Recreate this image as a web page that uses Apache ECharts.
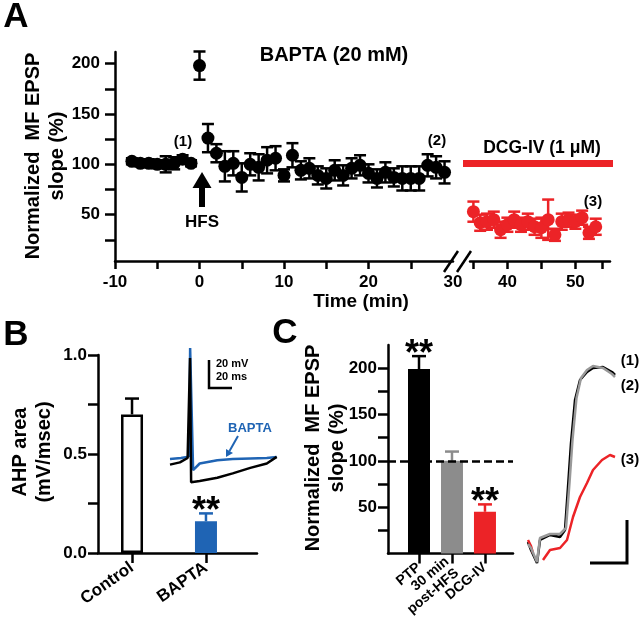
<!DOCTYPE html>
<html><head><meta charset="utf-8">
<script src="https://cdn.jsdelivr.net/npm/echarts/dist/echarts.min.js"></script>
<style>html,body{margin:0;padding:0;background:#fff}#c{width:640px;height:623px}</style>
</head><body><div id="c"></div>
<script>
// ---------- Panel A data ----------
const blackTime = [-8,-7,-6,-5,-4,-3,-2,-1,0,1,2,3,4,5,6,7,8,9,10,11,12,13,14,15,16,17,18,19,20,21,22,23,24,25,26,27,28,29];
const blackMean = [103,101,101,100,100,101,105,101,198,126,111,98,101,87,100,97,104,106,89,109,94,96,89,86,94,89,96,99,91,86,92,87,86,86,86,99,97,92];
const blackSem  = [3,3,4,4,8,6,4,3,14,14,9,15,12,14,11,13,13,12,6,12,9,10,9,10,10,10,10,10,9,9,10,9,12,12,12,11,11,11];
const redTime = [35,36,37,38,39,40,41,42,43,44,45,46,47,48,49,50,51,52,53];
const redMean = [53,42,43,45,35,40,45,40,43,38,37,45,30,43,45,43,47,32,38];
const redSem  = [10,8,8,8,8,7,8,7,8,8,10,20,6,8,7,7,7,6,8];
const aYTickVals = [25,50,75,100,125,150,175,200];
const aYLabels = [50,100,150,200];
const aXTicksLeft = [-10,-5,0,5,10,15,20,25];
const aXLabelsLeft = [-10,0,10,20,30];
const aXTicksRight = [35,40,45,50,54];
const aXLabelsRight = [40,50];
const aYTitle = 'Normalized  MF EPSP\nslope (%)';
const aXTitle = 'Time (min)';

// ---------- Panel B data ----------
const bCategories = ['Control','BAPTA'];
const bMean = [0.70,0.16];
const bSem = [0.08,0.04];
const bSig = ['','**'];
const bYTickVals = [0,0.25,0.5,0.75,1];
const bYLabels = [0,0.5,1];
const bYTitle = 'AHP area\n(mV/msec)';
// inset traces (time ms, voltage mV relative to baseline)
const bBlackT = [0,9,16,17.5,18.2,19.2,27,43,57,73,88,97];
const bBlackV = [-6,-4,0,1,91,-22,-21,-18,-14,-9,-5,1];
const bBlueT  = [0,10,15.5,17.5,18.3,21,27,43,57,73,88,97];
const bBlueV  = [-1,0,1,2,100,-11,-5,-2,-1,-0.5,0,1];

// ---------- Panel C data ----------
const cCategories = ['PTP','30 min\npost-HFS','DCG-IV'];
const cMean = [199,100,45];
const cSem = [14,10,8];
const cSig = ['**','','**'];
const cYTickVals = [25,50,75,100,125,150,175,200];
const cYLabels = [50,100,150,200];
const cYTitle = 'Normalized  MF EPSP\nslope (%)';
// EPSP traces (arbitrary time, amplitude units)
const c1T = [8,11,13,17,20,30,40,45,48,51,55,60,67,73,83,92,95];
const c1V = [28,20,18,7,30,35,33,40,83,127,170,190,198,202,203,198,195];
const c2T = [8,11,14,17,20,30,40,46,49.5,52.5,56.5,61,67,73,83,92,95];
const c2V = [26,22,15,8,32,36,36,42,87,130,172,192,200,204,202,196,193];
const c3T = [8,11,13,null,23,30,40,47,53,60,67,73,82,90,95];
const c3V = [30,24,17,null,10,20,22,30,53,73,87,100,110,115,113];

const FF = '"Liberation Sans", Arial, Helvetica, sans-serif';
const RED = '#ec2327', BLUE = '#1f64b4', GREY = '#8c8c8c';
const bColors = ['#ffffff', BLUE], bBorders = ['#000000', BLUE];
const cColors = ['#000000', GREY, RED];

const pair = (xs, ys) => xs.map((x,i) => x === null ? [null,null] : [x, ys[i]]);

function errBar(color, twoSided, cap, sig, sigSize) {
  return function (params, api) {
    const x = api.value(0), m = api.value(1), e = api.value(2);
    const hi = api.coord([x, m + e]);
    const lo = twoSided ? api.coord([x, m - e]) : api.coord([x, m]);
    const st = {stroke: color, lineWidth: 2.5, fill: null};
    const ch = [
      {type:'line', shape:{x1:hi[0],y1:hi[1],x2:lo[0],y2:lo[1]}, style:st},
      {type:'line', shape:{x1:hi[0]-cap,y1:hi[1],x2:hi[0]+cap,y2:hi[1]}, style:st}
    ];
    if (twoSided) ch.push({type:'line', shape:{x1:lo[0]-cap,y1:lo[1],x2:lo[0]+cap,y2:lo[1]}, style:st});
    const s = sig ? sig[params.dataIndex] : '';
    if (s) ch.push({type:'text', x: hi[0], y: hi[1] - 1, style:{text:s, fill:'#000', fontSize:sigSize, fontWeight:'bold', fontFamily:FF, align:'center', verticalAlign:'middle'}});
    return {type:'group', children: ch};
  };
}
// category label under the C axis, placed from the axis scale
function catLabel(params, api) {
  const p = api.coord([api.value(0), 0]);
  return {type:'text', x: p[0], y: p[1] + 12, rotation: 40 * Math.PI / 180,
    style:{text: cCategories[params.dataIndex], fill:'#000', fontSize:14, fontWeight:'bold', fontFamily:FF, lineHeight:15, align:'right', verticalAlign:'middle'}};
}

const axLine = {show:true, onZero:false, lineStyle:{color:'#000', width:2.5}};
const tick = (vals, len) => ({show:true, customValues: vals, length: len, lineStyle:{color:'#000', width:2.5}});
const lbl = (vals, margin, extra) => Object.assign({show:true, customValues: vals, margin: margin, hideOverlap:false, showMinLabel:true, showMaxLabel:true, color:'#000', fontSize:17, fontWeight:'bold', fontFamily:FF}, extra || {});
const txt = (x, y, text, size, extra) => ({type:'text', x, y, style:Object.assign({text, fill:'#000', fontSize:size, fontWeight:'bold', fontFamily:FF, align:'center', verticalAlign:'middle'}, extra || {})});
const vtxt = (x, y, text) => ({type:'text', x, y, rotation: Math.PI/2, style:{text, fill:'#000', fontSize:20, fontWeight:'bold', fontFamily:FF, lineHeight:24, align:'center', verticalAlign:'middle'}});

const chart = echarts.init(document.getElementById('c'), null, {renderer:'canvas'});
chart.setOption({
  animation: false,
  backgroundColor: '#fff',
  grid: [
    {left:115, top:52, width:338, height:209},
    {left:470, top:52, width:140, height:209},
    {left:98, top:355, width:159, height:198},
    {left:170, top:340, width:110, height:150},
    {left:388, top:345, width:125, height:208.5},
    {left:520, top:355, width:100, height:215}
  ],
  xAxis: [
    {gridIndex:0, type:'value', min:-10, max:30, axisLine:axLine, axisTick:tick(aXTicksLeft, 8), axisLabel:lbl(aXLabelsLeft, 13), splitLine:{show:false}},
    {gridIndex:1, type:'value', min:34.5, max:55.1, axisLine:axLine, axisTick:tick(aXTicksRight, 8), axisLabel:lbl(aXLabelsRight, 13), splitLine:{show:false}},
    {gridIndex:2, type:'value', min:0.54, max:2.69, axisLine:axLine, axisTick:tick([1,2], 10),
      axisLabel:lbl([1,2], 13, {rotate:35, fontSize:17, formatter: v => bCategories[Math.round(v)-1]}), splitLine:{show:false}},
    {gridIndex:3, type:'value', min:0, max:100, show:false},
    {gridIndex:4, type:'value', min:0.06, max:3.85, axisLine:axLine, axisTick:tick([1,2,3], 10),
      axisLabel:{show:false}, splitLine:{show:false}},
    {gridIndex:5, type:'value', min:0, max:100, show:false}
  ],
  yAxis: [
    {gridIndex:0, type:'value', min:4, max:211.5, axisLine:axLine, axisTick:tick(aYTickVals, 10), axisLabel:lbl(aYLabels, 15), splitLine:{show:false}},
    {gridIndex:1, type:'value', min:4, max:211.5, show:false},
    {gridIndex:2, type:'value', min:0, max:1, axisLine:axLine, axisTick:tick(bYTickVals, 10),
      axisLabel:lbl(bYLabels, 11, {formatter: v => v.toFixed(1)}), splitLine:{show:false}},
    {gridIndex:3, type:'value', min:-29.1, max:107.3, show:false},
    {gridIndex:4, type:'value', min:0, max:225, axisLine:axLine, axisTick:tick(cYTickVals, 10), axisLabel:lbl(cYLabels, 11), splitLine:{show:false}},
    {gridIndex:5, type:'value', min:0, max:215, show:false}
  ],
  series: [
    // Panel A
    {type:'custom', xAxisIndex:0, yAxisIndex:0, renderItem: errBar('#000', true, 6, null, 0), encode:{x:0,y:1},
      data: blackTime.map((t,i)=>[t, blackMean[i], blackSem[i]]), z:2},
    {type:'scatter', xAxisIndex:0, yAxisIndex:0, symbol:'circle', symbolSize:13, itemStyle:{color:'#000', opacity:1},
      data: pair(blackTime, blackMean), z:3},
    {type:'custom', xAxisIndex:1, yAxisIndex:1, renderItem: errBar(RED, true, 6, null, 0), encode:{x:0,y:1},
      data: redTime.map((t,i)=>[t, redMean[i], redSem[i]]), z:2},
    {type:'scatter', xAxisIndex:1, yAxisIndex:1, symbol:'circle', symbolSize:13, itemStyle:{color:RED, opacity:1},
      data: pair(redTime, redMean), z:3},
    // Panel B
    {type:'bar', xAxisIndex:2, yAxisIndex:2, barWidth:22,
      data: bMean.map((v,i)=>({value:[i+1, v], itemStyle:{color:bColors[i], borderColor:bBorders[i], borderWidth:2.5}})), z:2},
    {type:'custom', xAxisIndex:2, yAxisIndex:2, renderItem: function(p, api){ return errBar(bBorders[p.dataIndex], false, 7, bSig, 36)(p, api); }, encode:{x:0,y:1},
      data: bMean.map((v,i)=>[i+1, v, bSem[i]]), z:3},
    {type:'line', xAxisIndex:3, yAxisIndex:3, showSymbol:false, lineStyle:{color:BLUE, width:2.5}, data: pair(bBlueT, bBlueV), z:4},
    {type:'line', xAxisIndex:3, yAxisIndex:3, showSymbol:false, lineStyle:{color:'#000', width:2.5}, data: pair(bBlackT, bBlackV), z:5},
    // Panel C
    {type:'bar', xAxisIndex:4, yAxisIndex:4, barWidth:22,
      data: cMean.map((v,i)=>({value:[i+1, v], itemStyle:{color:cColors[i]}})), z:2,
      markLine:{silent:true, symbol:'none', label:{show:false}, lineStyle:{type:[8,4], color:'#000', width:2.5}, data:[{yAxis:100}]}},
    {type:'custom', xAxisIndex:4, yAxisIndex:4, renderItem: function(p, api){ return errBar(cColors[p.dataIndex], false, 7, cSig, 36)(p, api); }, encode:{x:0,y:1},
      data: cMean.map((v,i)=>[i+1, v, cSem[i]]), z:3},
    {type:'custom', xAxisIndex:4, yAxisIndex:4, renderItem: catLabel, clip:false, encode:{x:0},
      data: cCategories.map((c,i)=>[i+1]), z:3},
    {type:'line', xAxisIndex:5, yAxisIndex:5, showSymbol:false, lineStyle:{color:'#000', width:2.5}, data: pair(c1T, c1V), z:4},
    {type:'line', xAxisIndex:5, yAxisIndex:5, showSymbol:false, lineStyle:{color:'#999999', width:2.5}, data: pair(c2T, c2V), z:5},
    {type:'line', xAxisIndex:5, yAxisIndex:5, showSymbol:false, connectNulls:false, lineStyle:{color:RED, width:2.5}, data: pair(c3T, c3V), z:4}
  ],
  graphic: [
    txt(16, 17.5, 'A', 35),
    txt(16, 335, 'B', 35),
    txt(285, 333.5, 'C', 35),
    vtxt(45, 156, aYTitle),
    vtxt(32, 452, bYTitle),
    vtxt(325, 448, cYTitle),
    txt(334, 55, 'BAPTA (20 mM)', 20),
    txt(542, 148, 'DCG-IV (1 \u03bcM)', 17.5),
    {type:'rect', shape:{x:463, y:160, width:150, height:7}, style:{fill:RED}},
    txt(183, 142, '(1)', 15),
    txt(437, 141, '(2)', 15),
    txt(593, 202, '(3)', 15),
    {type:'polygon', shape:{points:[[202,172],[192.5,188],[211.5,188]]}, style:{fill:'#000'}},
    {type:'rect', shape:{x:199, y:186, width:6, height:21}, style:{fill:'#000'}},
    txt(202, 222, 'HFS', 17),
    txt(361, 302, aXTitle, 19),
    {type:'line', shape:{x1:444,y1:272,x2:458,y2:251}, style:{stroke:'#000', lineWidth:2.5}},
    {type:'line', shape:{x1:457,y1:272,x2:471,y2:251}, style:{stroke:'#000', lineWidth:2.5}},
    // B inset annotations
    {type:'polyline', shape:{points:[[209,360],[209,388],[232,388]]}, style:{stroke:'#000', lineWidth:2.5, fill:null}},
    txt(216, 364, '20 mV', 11, {align:'left'}),
    txt(216, 377, '20 ms', 11, {align:'left'}),
    txt(250, 428, 'BAPTA', 13, {fill:BLUE}),
    {type:'line', shape:{x1:238,y1:436,x2:229.5,y2:451}, style:{stroke:BLUE, lineWidth:2}},
    {type:'polygon', shape:{points:[[226,457],[233,452.9],[226,448.9]]}, style:{fill:BLUE}},
    // C trace annotations
    {type:'polyline', shape:{points:[[590,563],[627,563],[627,520]]}, style:{stroke:'#000', lineWidth:3, fill:null}},
    txt(630, 361, '(1)', 15),
    txt(630, 386, '(2)', 15),
    txt(630, 460, '(3)', 15)
  ]
});
</script></body></html>
